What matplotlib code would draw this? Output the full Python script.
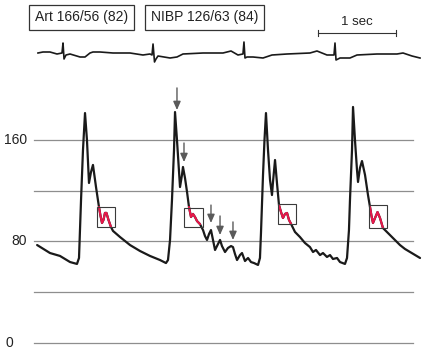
import matplotlib
matplotlib.use("Agg")
import matplotlib.pyplot as plt
from matplotlib.patches import Rectangle

# ---------------- data ----------------
# arterial pressure trace: time (s), pressure (mmHg)
art_t = [0.04, 0.205, 0.333, 0.462, 0.551, 0.577, 0.603, 0.628, 0.654, 0.679, 0.705, 0.731, 0.756, 0.795, 0.833,
         0.853, 0.872, 0.891, 0.910, 0.929, 0.955, 0.987,
         1.013, 1.103, 1.231, 1.359, 1.487, 1.615, 1.692,
         1.718, 1.744, 1.769, 1.795, 1.808, 1.833, 1.872, 1.897, 1.910, 1.936, 1.962, 1.987,
         2.013, 2.038, 2.064, 2.090, 2.128,
         2.167, 2.192, 2.218, 2.244, 2.269, 2.295, 2.321, 2.359, 2.385, 2.410, 2.449, 2.487, 2.526, 2.551,
         2.577, 2.603, 2.641, 2.667, 2.705, 2.744, 2.782, 2.821, 2.872,
         2.897, 2.910, 2.936, 2.955, 2.974, 3.000, 3.026, 3.051, 3.064, 3.090, 3.115, 3.141,
         3.167, 3.192, 3.218, 3.244, 3.269, 3.295,
         3.346, 3.410, 3.474, 3.538, 3.577, 3.615, 3.667, 3.705, 3.756, 3.795, 3.833, 3.885, 3.923, 3.987,
         4.013, 4.038, 4.051, 4.077, 4.090, 4.115, 4.141, 4.154, 4.179, 4.205, 4.244, 4.282, 4.308,
         4.327, 4.346, 4.372, 4.404, 4.436, 4.474,
         4.500, 4.564, 4.628, 4.692, 4.756, 4.821, 4.885, 4.949]
art_p = [77.2, 70.9, 68.6, 63.8, 62.3, 67.0, 112.7, 152.1, 181.2, 160.0, 126.1, 134.8, 140.3, 122.9, 107.2,
         100.1, 94.6, 97.0, 102.5, 102.5, 97.0, 91.4,
         88.3, 83.5, 77.2, 72.5, 68.6, 65.4, 63.0,
         65.4, 81.2, 112.7, 152.1, 182.0, 160.0, 122.9, 132.4, 138.7, 130.0, 119.0, 107.2,
         99.3, 101.7, 99.3, 96.1, 93.7,
         89.0, 84.3, 81.2, 85.9, 89.0, 81.2, 73.3, 78.0, 81.2, 76.4, 71.7, 74.9, 76.4, 75.6,
         70.1, 65.4, 69.3, 70.9, 64.6, 67.0, 63.8, 63.0, 61.5,
         67.0, 86.7, 132.4, 160.0, 181.2, 152.1, 128.4, 116.6, 126.9, 144.2, 126.1, 108.7,
         103.2, 98.5, 101.7, 102.5, 97.0, 93.9,
         87.5, 83.5, 78.8, 75.6, 71.7, 73.3, 69.3, 70.9, 67.8, 69.3, 66.2, 67.0, 63.8, 62.3,
         67.0, 89.0, 112.7, 152.1, 186.0, 160.0, 136.3, 126.9, 137.9, 143.4, 132.4, 116.6, 107.2,
         100.1, 94.6, 98.5, 103.2, 98.5, 90.6,
         89.0, 85.1, 81.2, 77.2, 74.1, 71.7, 69.3, 67.0]

# highlighted (red) segments: start / end time of each
red_start = [0.833, 1.987, 3.141, 4.308]
red_end = [0.987, 2.128, 3.295, 4.474]

# boxes around highlighted segments: t0, t1, p_low, p_high
box_t0 = [0.808, 1.923, 3.128, 4.295]
box_t1 = [1.038, 2.167, 3.359, 4.526]
box_plo = [91.4, 91.4, 93.7, 90.6]
box_phi = [107.2, 106.4, 109.5, 108.7]

# arrows: time, pressure at tail, pressure at tip
arrow_t = [1.833, 1.923, 2.269, 2.385, 2.551]
arrow_tail = [201.0, 157.6, 108.7, 100.1, 95.4]
arrow_tip = [183.6, 142.6, 94.6, 85.1, 81.2]

# ECG trace: time (s), amplitude (mV)
ecg_t = [0.051, 0.115, 0.205, 0.295, 0.359, 0.372, 0.385, 0.410, 0.462, 0.590, 0.654, 0.718, 0.756, 0.846,
         1.013, 1.231, 1.397, 1.487, 1.513, 1.526, 1.545, 1.564, 1.590, 1.744, 1.833, 1.910,
         2.167, 2.423, 2.526, 2.615, 2.679, 2.692, 2.705, 2.731, 2.808, 2.936, 3.051,
         3.244, 3.538, 3.628, 3.756, 3.846, 3.859, 3.872, 3.923, 4.051, 4.141,
         4.397, 4.654, 4.731, 4.846, 4.949]
ecg_v = [0.1, 0.2, 0.2, 0.0, 0.1, 1.1, -0.5, -0.1, 0.0, -0.3, -0.3, 0.1, 0.2, 0.2,
         0.1, 0.1, -0.1, 0.0, -0.1, 1.0, -0.8, -0.5, -0.2, -0.4, -0.3, 0.0,
         0.1, 0.1, 0.3, -0.1, 0.0, 1.2, -0.4, -0.3, -0.3, -0.4, -0.1,
         0.0, 0.1, 0.3, -0.1, -0.1, 1.1, -0.6, -0.4, -0.4, -0.1,
         0.0, 0.0, 0.1, -0.2, -0.4]

grid_levels = [0, 40, 80, 120, 160]
tick_values = [160, 80, 0]
tick_labels = ["160", "80", "0"]
art_label = "Art 166/56 (82)"
nibp_label = "NIBP 126/63 (84)"
scale_label = "1 sec"
scale_len = 1.0
scale_start = 3.641

# ---------------- figure ----------------
W, H = 426, 353
fig = plt.figure(figsize=(W / 100, H / 100), dpi=100)
plt.rcParams['font.family'] = ['Liberation Sans', 'DejaVu Sans']

# pressure axes covers the whole figure: x in s, y in mmHg
ax = fig.add_axes([0, 0, 1, 1])
ax.set_xlim(-34 / 78, (W - 34) / 78)
ax.set_ylim((343 - H) / 1.269, 343 / 1.269)
ax.axis('off')

for g in grid_levels:
    ax.plot([0, 4.86], [g, g], color='#8e8e8e', lw=0.9, zorder=1)

ax.plot(art_t, art_p, color='#1a1a1a', lw=1.6, solid_joinstyle='round', solid_capstyle='round', zorder=3)
for s, e in zip(red_start, red_end):
    seg_t = [t for t in art_t if s <= t <= e]
    seg_p = [p for t, p in zip(art_t, art_p) if s <= t <= e]
    ax.plot(seg_t, seg_p, color='#e8174a', lw=1.5, solid_capstyle='round', zorder=4)

for t0, t1, lo, hi in zip(box_t0, box_t1, box_plo, box_phi):
    ax.add_patch(Rectangle((t0, lo), t1 - t0, hi - lo, fill=False, ec='#3a3a3a', lw=0.8, zorder=5))

for t, a, b in zip(arrow_t, arrow_tail, arrow_tip):
    ax.annotate('', xy=(t, b), xytext=(t, a),
                arrowprops=dict(arrowstyle='-|>,head_length=0.5,head_width=0.22', color='#5a5a5a', lw=1.0,
                                shrinkA=0, shrinkB=0), zorder=6)

tick_x = {"160": 27, "80": 27, "0": 13}
for v, lab in zip(tick_values, tick_labels):
    ax.text((tick_x[lab] - 34) / 78, v, lab, ha='right', va='center', fontsize=10, color='#222222')

# ECG axes: same time scale, amplitude in mV
ax2 = fig.add_axes([0, 0, 1, 1])
ax2.set_xlim(-34 / 78, (W - 34) / 78)
ax2.set_ylim((54 - H) / 10, 54 / 10)
ax2.axis('off')
ax2.plot(ecg_t, ecg_v, color='#1a1a1a', lw=1.2, solid_joinstyle='round')

# scale bar
ax2.plot([scale_start, scale_start + scale_len], [2.1, 2.1], color='#333333', lw=0.8)
ax2.plot([scale_start, scale_start], [1.8, 2.4], color='#333333', lw=0.8)
ax2.plot([scale_start + scale_len] * 2, [1.8, 2.4], color='#333333', lw=0.8)
ax2.text(scale_start + scale_len / 2, 2.6, scale_label, ha='center', va='bottom', fontsize=9.5, color='#222222')

# label boxes
for lab, cx in [(art_label, 81.5), (nibp_label, 204.5)]:
    fig.text(cx / W, 1 - 17.5 / H, lab, ha='center', va='center', fontsize=10, color='#222222',
             bbox=dict(boxstyle='square,pad=0.42', fc='white', ec='#333333', lw=0.9))

fig.savefig('out.png', dpi=100)
